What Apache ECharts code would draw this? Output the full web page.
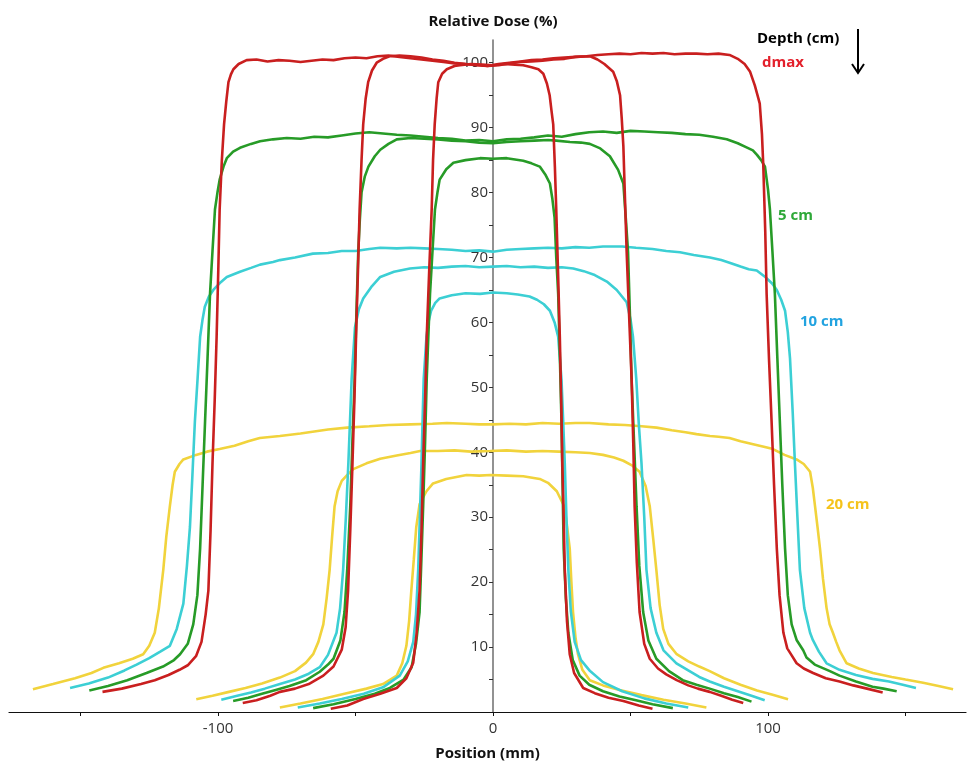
<!DOCTYPE html>
<html>
<head>
<meta charset="utf-8">
<script src="https://cdn.jsdelivr.net/npm/echarts@6/dist/echarts.min.js"></script>
<style>html,body{margin:0;padding:0;background:#fff}#chart{width:968px;height:762px}</style>
</head>
<body>
<div id="chart"></div>
<script>
// ---- axis ticks / labels ----
const xTickValues = [-150, -100, -50, 0, 50, 100, 150];
const xLabelValues = [-100, 0, 100];
const yTickValues = [5, 10, 15, 20, 25, 30, 35, 40, 45, 50, 55, 60, 65, 70, 75, 80, 85, 90, 95, 100];
const yLabelValues = [10, 20, 30, 40, 50, 60, 70, 80, 90, 100];
const depthNames = ['dmax', '5 cm', '10 cm', '20 cm'];

// ---- profiles [position mm, relative dose %] ----
// dmax
const redLarge = [[-142,3.1],[-135,3.6],[-128,4.3],[-123,4.9],[-118,5.7],[-114,6.5],[-111,7.2],[-108,8.6],[-106,10.8],[-104.5,15],[-103.5,18.7],[-102.7,28],[-102,38.3],[-101.2,48],[-100.5,57.8],[-99.9,68],[-99.4,77.4],[-98.6,85],[-97.8,90.5],[-97,94],[-96.2,97],[-95.3,98.2],[-94.4,99],[-92.5,99.8],[-89.6,100.4],[-86,100.5],[-82,100.2],[-78,100.4],[-74,100.3],[-70,100.1],[-66,100.3],[-62,100.5],[-58,100.4],[-54,100.7],[-50,100.8],[-46,100.7],[-42,101],[-38,101.1],[-34,100.9],[-30,100.7],[-26,100.5],[-22,100.3],[-18,100.1],[-14,99.9],[-10,99.8],[-6,99.6],[-2,99.5],[2,99.6],[6,99.9],[10,100.1],[14,100.2],[18,100.3],[22,100.5],[26,100.6],[30,100.9],[34,101.0],[38,101.2],[42,101.3],[46,101.4],[50,101.3],[54,101.5],[58,101.4],[62,101.5],[66,101.3],[70,101.4],[74,101.4],[78,101.3],[82,101.4],[86,101.2],[89,100.6],[91.5,99.8],[93.5,98.6],[95.2,96.5],[96.5,94.5],[97,93.7],[97.8,89],[98.3,84],[99,74],[99.5,64.4],[100.4,54],[101.3,44.8],[102.2,35],[103.2,25.2],[104.2,18],[105.6,12.2],[107,9.8],[108.5,8.8],[110.4,7.5],[113,6.7],[116.4,6.0],[121,5.2],[126,4.7],[131,4.1],[136,3.6],[141.7,3.0]];
const redMedium = [[-91,1.4],[-86,1.8],[-81,2.5],[-77.5,3.1],[-72,3.6],[-67,4.3],[-61.7,5.6],[-58,7.0],[-55,9.6],[-53.6,13],[-52.7,18.7],[-51.9,28],[-51.1,38.3],[-50.4,48],[-49.8,57.8],[-49.1,68],[-48.5,77.4],[-47.8,85],[-47.2,90.5],[-46.3,94.5],[-45.4,97],[-44,98.8],[-42.3,100],[-40,100.6],[-37.6,101],[-34,101.1],[-30,101.0],[-26,100.8],[-22,100.5],[-18,100.3],[-14,100.0],[-10,99.8],[-6,99.7],[-2,99.5],[2,99.8],[6,100.0],[10,100.2],[14,100.4],[18,100.5],[22,100.7],[26,100.8],[30,100.9],[35.3,101],[38,100.5],[40.5,99.8],[43.7,98.6],[45,97.2],[46.2,95],[46.8,91.5],[47.4,87.2],[48,79],[48.6,70.9],[49.5,61],[50.4,51.3],[51,41.5],[51.5,31.7],[52.3,23],[53.3,15.4],[55,10.5],[57,8.2],[60,6.7],[63,5.8],[66.8,4.9],[71,4.1],[74.5,3.6],[78.8,3.1],[83,2.5],[87,1.9],[91,1.4]];
const redSmall = [[-59,0.5],[-53,1.0],[-47.2,2.0],[-41,2.8],[-35,3.7],[-31.5,5.2],[-29,7.6],[-27.8,12],[-26.7,18.7],[-26,28],[-25.4,38.3],[-24.7,48],[-24.1,57.8],[-23.2,68],[-22.3,77.4],[-21.8,85],[-21.2,90.5],[-20.5,94.5],[-19.9,97],[-18.5,98.3],[-16.8,99],[-14,99.5],[-12,99.6],[-8,99.8],[-4,99.7],[0,99.6],[4,99.8],[8,99.7],[11,99.6],[14,99.3],[16.5,99],[18.3,98.3],[19.6,96.8],[20.6,95],[21.3,92.5],[21.9,90.5],[22.5,84],[23,77.4],[23.7,67],[24.3,57.8],[24.8,48],[25.2,38.3],[25.7,30],[26.1,21.9],[26.9,14],[27.9,8.9],[29.5,6],[32.8,3.7],[37,2.9],[42,2.2],[47.4,1.7],[53,1.0],[58,0.5]];
// 5 cm
const greenLarge = [[-146.8,3.3],[-140,4.0],[-133,4.9],[-126,6.0],[-120,7.0],[-116,8.0],[-113.8,8.9],[-111,10.5],[-109,13.5],[-107.5,18],[-106.5,25.2],[-105.6,35],[-104.7,44.8],[-103.8,54.5],[-102.9,64.4],[-102,71],[-101.1,77.4],[-100.2,80],[-99.4,82],[-98,84],[-96.8,85.3],[-94.5,86.3],[-92,86.9],[-88,87.5],[-84.7,87.9],[-80,88.2],[-75,88.4],[-70,88.3],[-65,88.6],[-60,88.5],[-55,88.8],[-50,89.1],[-45,89.3],[-40,89.1],[-35,88.9],[-30,88.8],[-25,88.6],[-20,88.4],[-15,88.3],[-10,88.0],[-5,88.1],[0,87.9],[5,88.2],[10,88.3],[15,88.5],[20,88.8],[25,88.6],[30,89.0],[35,89.3],[40,89.4],[45,89.2],[50,89.5],[55,89.4],[60,89.3],[65,89.2],[70,89.0],[75,88.9],[80,88.6],[85,88.2],[89,87.6],[92,87.0],[94.5,86.5],[96,85.8],[97.5,85.0],[98.9,84],[100,80.5],[100.7,77.4],[101.6,71],[102.5,64.4],[103.4,54.5],[104.3,44.8],[105.2,35],[106.2,25.2],[107.2,18],[108.6,13.5],[110.4,11.1],[112.8,9.5],[114,8.4],[117,7.3],[122.5,6.3],[126,5.6],[132,4.7],[138,3.9],[142,3.6],[146.8,3.2]];
const greenMedium = [[-94.5,1.7],[-89,2.2],[-84,2.8],[-79,3.4],[-74,4.0],[-67.9,4.9],[-63,6.2],[-60,7.3],[-58,8.2],[-55.5,11],[-54,15.4],[-53,22],[-51.9,31.7],[-51.1,42],[-50.3,51.3],[-49.7,61],[-49,70.9],[-48.4,76],[-47.8,80],[-46.6,82.5],[-45.3,84],[-43,85.6],[-41,86.6],[-38,87.5],[-35,88.2],[-30,88.4],[-25,88.3],[-20,88.2],[-15,88.0],[-10,87.9],[-5,87.7],[0,87.6],[5,87.8],[10,87.9],[15,88.0],[20,88.1],[23,88.0],[28,87.8],[32,87.7],[35.2,87.5],[39,86.8],[42.5,85.6],[45.5,83.5],[47.4,81.4],[48.3,76],[49.1,70.9],[49.8,61],[50.4,51.3],[51.3,41.5],[52.2,31.7],[53.2,22.5],[54.6,15.4],[56.5,11],[59.4,8.2],[64,6.3],[69,4.9],[74,4.2],[78.8,3.6],[84,2.9],[89,2.3],[94,1.6]];
const greenSmall = [[-65.4,0.6],[-58,1.2],[-50,2.0],[-43,2.8],[-37.5,3.7],[-32.5,5.0],[-29.6,6.9],[-28,10.5],[-26.7,15.4],[-26,24],[-25.4,31.7],[-24.7,41.5],[-24.1,51.3],[-23.5,58],[-22.9,64.4],[-22,71],[-21.1,77.4],[-20.2,80],[-19.4,82],[-17,83.6],[-14.4,84.6],[-10,85.0],[-4.7,85.3],[0,85.2],[5,85.3],[11,84.9],[14,84.5],[17,84],[19,82.8],[20.7,81.4],[21.6,79],[22.4,76.1],[23,70],[23.7,64.4],[24.3,55],[24.9,44.8],[25.3,35],[25.7,25.2],[26.5,17.5],[27.4,12.2],[29,8],[31.5,5.6],[35,4.2],[40,3.2],[46,2.4],[52,1.8],[58,1.2],[65.4,0.6]];
// 10 cm
const cyanLarge = [[-153.8,3.7],[-147,4.4],[-140,5.3],[-134,6.4],[-129.6,7.3],[-125,8.3],[-121,9.3],[-117.5,10.2],[-115,12.8],[-112.6,16.7],[-111.3,22.5],[-110.2,28.5],[-109.3,36.5],[-108.4,44.8],[-107.4,51.5],[-106.5,57.8],[-105.6,60.5],[-104.8,62.4],[-103.3,64],[-101.7,65],[-99,66.2],[-96.8,67],[-92,67.8],[-88,68.4],[-84.7,68.9],[-80,69.3],[-77.5,69.6],[-72,70.0],[-65.5,70.6],[-60,70.7],[-55,71.0],[-50,71.0],[-45,71.3],[-41,71.5],[-35,71.4],[-30,71.5],[-25,71.4],[-20,71.3],[-15,71.2],[-10,71.0],[-5,71.1],[0,70.9],[5,71.2],[10,71.3],[15,71.4],[20,71.5],[25,71.4],[30,71.6],[35,71.5],[40,71.7],[47,71.7],[52,71.5],[58,71.3],[63,71.0],[68,70.8],[73,70.4],[78.9,70.0],[83,69.6],[86,69.2],[90,68.6],[93,68.2],[95.9,68],[99,67],[101.5,66],[103.2,65],[104.8,63.5],[106.2,61.8],[107.2,58.5],[108,54.5],[109,46],[109.8,38.2],[110.7,30],[111.6,21.9],[113.2,16],[115.3,12.2],[116.3,11.1],[118.5,9.3],[121.3,7.5],[126,6.5],[132,5.7],[138,5.1],[144,4.7],[149,4.2],[153.8,3.7]];
const cyanMedium = [[-98.8,1.9],[-93,2.5],[-88,3.0],[-83,3.6],[-77.5,4.3],[-72,5.0],[-67,5.9],[-63,6.9],[-60,8.8],[-56.9,12.2],[-55.6,16],[-54.5,21.9],[-53.5,30],[-52.6,38.3],[-51.4,51.3],[-50.2,59.2],[-48.8,62],[-47.2,63.7],[-44,65.6],[-41,67],[-36,67.8],[-30.2,68.3],[-25,68.5],[-20,68.4],[-15,68.6],[-10,68.7],[-5,68.5],[0,68.6],[5,68.7],[10,68.5],[15,68.6],[20,68.4],[25,68.5],[29.2,68.3],[33,67.9],[37,67.3],[41.4,66.3],[45,65.0],[48.6,63.1],[50,60.5],[50.9,57.8],[52.1,51.3],[53,44.5],[54,38.3],[55,30],[55.8,21.9],[57.3,16],[59.4,12.2],[62,9.5],[66.7,7.5],[71,6.4],[75,5.4],[78.8,4.7],[84,3.9],[89,3.2],[94,2.5],[98.8,1.8]];
const cyanSmall = [[-71,0.7],[-63,1.3],[-55,2.0],[-47,2.8],[-40,3.8],[-33.9,5.6],[-31,7.8],[-29,10.8],[-28,15],[-27.2,21.9],[-26.6,30],[-26,38.3],[-25.6,45],[-25.2,51.3],[-24.7,54.5],[-24.2,57.8],[-23.4,60.2],[-22.5,61.8],[-21,63],[-19.4,63.7],[-15,64.2],[-10,64.5],[-4.7,64.4],[0,64.6],[5,64.5],[9,64.3],[13.3,64],[16,63.5],[18.5,62.8],[20.7,61.8],[22.4,60],[23.7,57.8],[24.3,54.5],[24.9,51.3],[25.5,45],[26.1,38.3],[26.7,30],[27.4,21.9],[28.3,15.5],[29.7,10.8],[32,8],[35.3,6.3],[40,4.6],[47,3.2],[55,2.1],[63,1.3],[71,0.7]];
// 20 cm
const yellowLarge = [[-167.3,3.5],[-160,4.3],[-152,5.2],[-146,6.0],[-141.7,6.8],[-136,7.5],[-131,8.2],[-127.2,8.9],[-125,10.2],[-123,12.2],[-121.5,16],[-119.9,21.9],[-118.8,27],[-117.5,31.7],[-116.5,35],[-115.7,37],[-114,38.2],[-112.6,38.9],[-108,39.6],[-104,40.1],[-99.4,40.5],[-94,41.0],[-89,41.7],[-84.8,42.2],[-77.5,42.5],[-70,42.9],[-65,43.2],[-60,43.5],[-53,43.8],[-45,44.0],[-38,44.2],[-30,44.3],[-22,44.4],[-16.8,44.5],[-10,44.4],[-5,44.3],[0,44.3],[6,44.4],[12,44.3],[18,44.5],[24,44.4],[30,44.5],[35,44.5],[42,44.3],[48,44.2],[54,44.0],[59.5,43.8],[65,43.4],[70,43.1],[74,42.8],[78.9,42.5],[82,42.4],[86,42.2],[90,41.7],[95,41.2],[100,40.7],[101.8,40.5],[106,39.6],[110.4,38.9],[113,38.2],[115.3,37],[116.3,34.5],[117.1,31.7],[118,28.5],[118.9,25.2],[120,20.5],[121.3,16],[122.4,13.5],[123.6,12.2],[124.8,10.8],[126,9.5],[128.6,7.5],[133,6.7],[138.2,6.0],[145,5.4],[150,5.0],[156.4,4.5],[162,4.0],[167.3,3.5]];
const yellowMedium = [[-107.9,1.95],[-102,2.5],[-96,3.1],[-90,3.7],[-84,4.4],[-77.5,5.3],[-72,6.3],[-68,7.6],[-65.4,8.9],[-63.5,10.8],[-61.7,13.5],[-60.5,17.5],[-59.4,21.9],[-58.5,27],[-57.6,31.7],[-56.5,34],[-55,35.6],[-52.8,36.6],[-50.8,37.4],[-46,38.3],[-41,39.0],[-35,39.5],[-30,39.9],[-26.5,40.2],[-20,40.2],[-14,40.3],[-8,40.1],[-1,40.2],[5,40.3],[12,40.1],[18,40.2],[24,40.1],[30,40.0],[35.2,39.9],[40,39.6],[44,39.2],[47.4,38.7],[50.5,38.0],[53.3,37],[55.5,34.8],[57,31.7],[58.3,26.5],[59.4,21.9],[60.6,16.5],[61.9,12.8],[63.8,10.5],[66.8,8.9],[71,7.8],[75,7.0],[78.8,6.3],[84,5.2],[90,4.2],[96,3.3],[102,2.6],[107.3,1.95]];
const yellowSmall = [[-77.5,0.7],[-70,1.3],[-62,2.0],[-54,2.8],[-46,3.6],[-40,4.3],[-35,5.6],[-33,7.5],[-31.5,10.2],[-30.5,14],[-29.7,18.7],[-28.8,23.5],[-27.9,28.5],[-26.7,32.0],[-24.2,34.0],[-21.8,35.2],[-17,35.9],[-9.6,36.5],[-5,36.4],[-1,36.5],[5,36.4],[11,36.3],[17,35.9],[20,35.3],[23.2,34.0],[26.1,31.5],[27.1,28],[27.9,25.2],[28.5,20],[29.1,15.4],[30,11.5],[30.9,8.9],[32.5,6.5],[35.2,4.9],[40,4.1],[46,3.4],[54,2.6],[62,1.9],[70,1.3],[77.6,0.7]];

const RED = '#c91f1f', GREEN = '#279b27', CYAN = '#3ccfd4', YELLOW = '#f1d33c';
const FONT = '"Open Sans", "Noto Sans", sans-serif';

const X_MIN = -176, X_MAX = 172, GRID_LEFT = 9, GRID_RIGHT = 2;
const plotWidth = 968 - GRID_LEFT - GRID_RIGHT;
const yAxisOffset = -((0 - X_MIN) / (X_MAX - X_MIN)) * plotWidth; // move y axis to x = 0

function line(name, data, color) {
  return { name: name, type: 'line', data: data, showSymbol: false, symbol: 'none',
    lineStyle: { color: color, width: 2.6 }, itemStyle: { color: color }, silent: true, z: 3 };
}

const chart = echarts.init(document.getElementById('chart'), null, { renderer: 'canvas' });
chart.setOption({
  animation: false,
  backgroundColor: '#ffffff',
  grid: { left: GRID_LEFT, right: GRID_RIGHT, top: 40, bottom: 50, containLabel: false, outerBoundsMode: 'none' },
  xAxis: {
    type: 'value', min: X_MIN, max: X_MAX,
    name: 'Position (mm)', nameLocation: 'middle', nameGap: 34,
    nameTextStyle: { fontFamily: FONT, fontWeight: 'bold', fontSize: 15, color: '#111' },
    axisLine: { onZero: false, lineStyle: { color: '#111', width: 1.2 } },
    axisTick: { show: true, customValues: xTickValues, length: 4, lineStyle: { color: '#111' } },
    axisLabel: { customValues: xLabelValues, fontFamily: FONT, fontSize: 15, color: '#333', margin: 9 },
    splitLine: { show: false }
  },
  yAxis: {
    type: 'value', min: 0, max: 103.5, position: 'left', offset: yAxisOffset,
    name: 'Relative Dose (%)', nameLocation: 'end', nameGap: 11,
    nameTextStyle: { fontFamily: FONT, fontWeight: 'bold', fontSize: 15, color: '#111', align: 'center' },
    axisLine: { onZero: false, lineStyle: { color: '#777', width: 1.6 } },
    axisTick: { show: true, customValues: yTickValues, length: 4, lineStyle: { color: '#333' } },
    axisLabel: { customValues: yLabelValues, fontFamily: FONT, fontSize: 15, color: '#333', margin: 5 },
    splitLine: { show: false }
  },
  series: [
    line('20 cm L', yellowLarge, YELLOW), line('20 cm M', yellowMedium, YELLOW), line('20 cm S', yellowSmall, YELLOW),
    line('10 cm L', cyanLarge, CYAN), line('10 cm M', cyanMedium, CYAN), line('10 cm S', cyanSmall, CYAN),
    line('5 cm L', greenLarge, GREEN), line('5 cm M', greenMedium, GREEN), line('5 cm S', greenSmall, GREEN),
    line('dmax L', redLarge, RED), line('dmax M', redMedium, RED), line('dmax S', redSmall, RED)
  ],
  graphic: [
    { type: 'text', left: 757, top: 31, style: { text: 'Depth (cm)', font: 'bold 15px ' + FONT, fill: '#000' } },
    { type: 'line', shape: { x1: 858, y1: 29, x2: 858, y2: 73 }, style: { stroke: '#000', lineWidth: 2 } },
    { type: 'polyline', shape: { points: [[852, 64], [858, 73], [864, 64]] }, style: { stroke: '#000', lineWidth: 2, fill: null } },
    { type: 'text', left: 762, top: 55, style: { text: depthNames[0], font: 'bold 15px ' + FONT, fill: '#e3202b' } },
    { type: 'text', left: 778, top: 208, style: { text: depthNames[1], font: 'bold 15px ' + FONT, fill: '#2ea838' } },
    { type: 'text', left: 800, top: 314, style: { text: depthNames[2], font: 'bold 15px ' + FONT, fill: '#22a3e0' } },
    { type: 'text', left: 826, top: 497, style: { text: depthNames[3], font: 'bold 15px ' + FONT, fill: '#f5c31b' } }
  ]
});
</script>
</body>
</html>
